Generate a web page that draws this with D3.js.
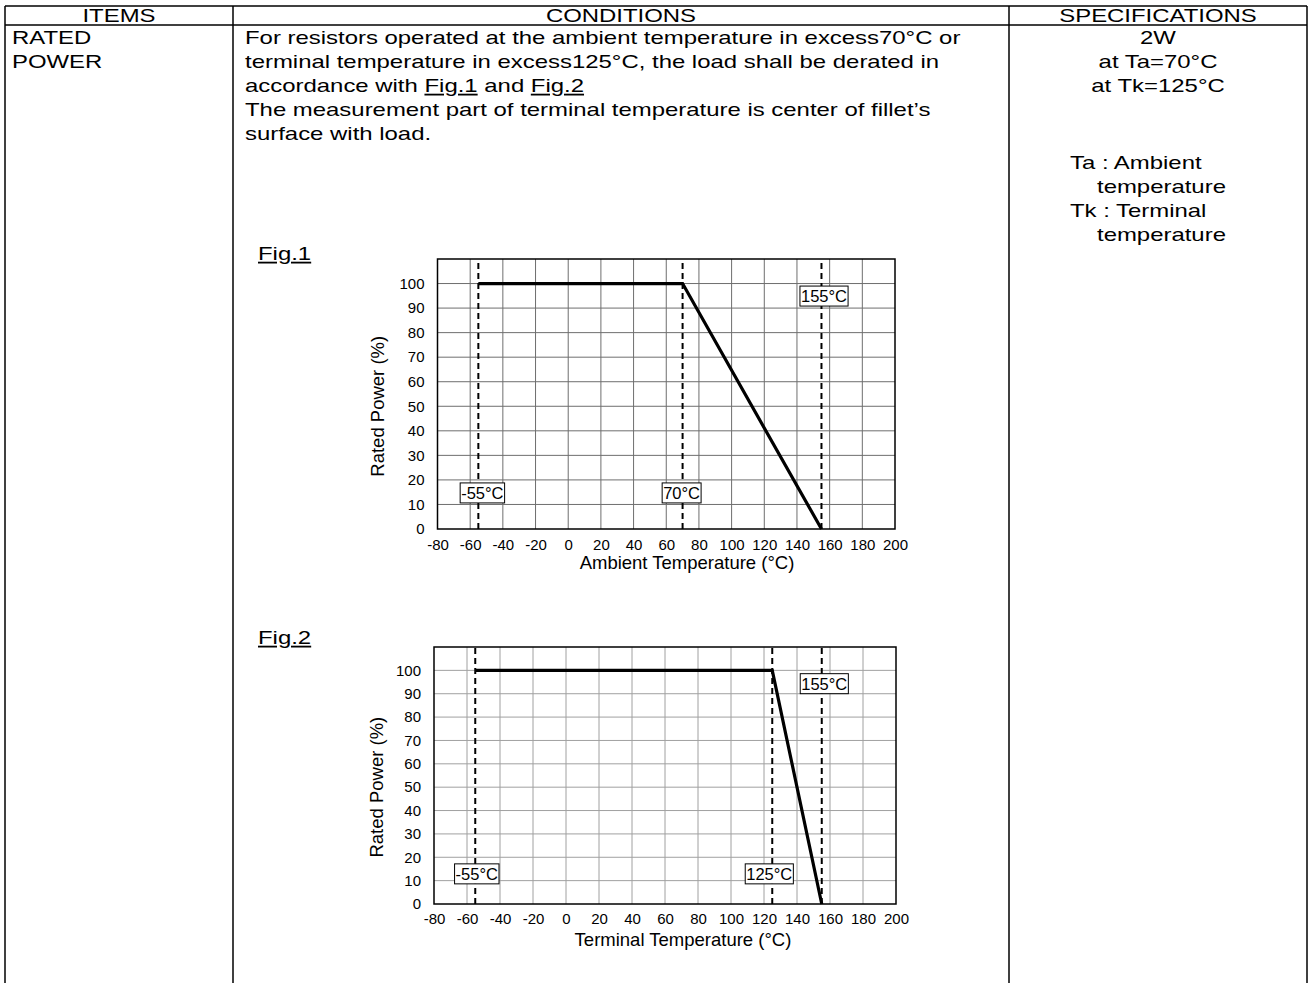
<!DOCTYPE html>
<html>
<head>
<meta charset="utf-8">
<script src="https://cdn.jsdelivr.net/npm/d3@7"></script>
<style>
  html, body { margin: 0; padding: 0; background: #fff; }
  svg { display: block; }
  text { font-family: Arial, "Liberation Sans", Helvetica, sans-serif; fill: #000; }
</style>
</head>
<body>
<svg id="page" width="1312" height="983"></svg>
<script>
// ---------------- data ----------------
const headers = ["ITEMS", "CONDITIONS", "SPECIFICATIONS"];
const itemLines = ["RATED", "POWER"];
const conditionLines = [
  "For resistors operated at the ambient temperature in excess70°C or",
  "terminal temperature in excess125°C, the load shall be derated in",
  null, // "accordance with Fig.1 and Fig.2" (built with underlines)
  "The measurement part of terminal temperature is center of fillet’s",
  "surface with load."
];
const specCenterLines = ["2W", "at Ta=70°C", "at Tk=125°C"];
const specNoteLines = [["Ta : Ambient", 0], ["temperature", 1], ["Tk : Terminal", 0], ["temperature", 1]];

const xTicks = [-80, -60, -40, -20, 0, 20, 40, 60, 80, 100, 120, 140, 160, 180, 200];
const yTicks = [0, 10, 20, 30, 40, 50, 60, 70, 80, 90, 100];
const xDomain = [-80, 200];
const yDomain = [0, 110];

const fig1Curve = [[-55, 100], [70, 100], [155, 0]];
const fig2Curve = [[-55, 100], [125, 100], [155, 0]];
const fig1Limits = [-55, 70, 155];
const fig2Limits = [-55, 125, 155];
const fig1LimitLabels = ["-55°C", "70°C", "155°C"];
const fig2LimitLabels = ["-55°C", "125°C", "155°C"];
const fig1LabelLevels = [14.7, 14.7, 94.9];
const fig2LabelLevels = [12.9, 12.9, 94.3];

// ---------------- layout ----------------
const svg = d3.select("#page");
const FONT = 18;
const SX = 1.33; // horizontal stretch of document text

function docText(x, y, str, anchor) {
  return svg.append("text")
    .attr("transform", `translate(${x},${y}) scale(${SX},1)`)
    .attr("text-anchor", anchor || "start").attr("font-size", FONT).text(str);
}

// table frame
const T = { left: 5, c1: 233, c2: 1009, right: 1307, top: 6, head: 25, bottom: 983 };
const frame = svg.append("g").attr("stroke", "#000").attr("stroke-width", 1.5).attr("fill", "none");
frame.append("line").attr("x1", T.left).attr("x2", T.right).attr("y1", T.top).attr("y2", T.top);
frame.append("line").attr("x1", T.left).attr("x2", T.right).attr("y1", T.head).attr("y2", T.head);
[T.left, T.c1, T.c2, T.right].forEach(x =>
  frame.append("line").attr("x1", x).attr("x2", x).attr("y1", T.top).attr("y2", T.bottom));

// headers
const headCenters = [(T.left + T.c1) / 2, (T.c1 + T.c2) / 2, (T.c2 + T.right) / 2];
headers.forEach((h, i) => docText(headCenters[i], 21.5, h, "middle"));

const rowY = i => 44 + i * 24;
itemLines.forEach((t, i) => docText(12, rowY(i), t));

conditionLines.forEach((t, i) => {
  if (t === null) {
    const tx = docText(245, rowY(i), "");
    tx.append("tspan").text("accordance with ");
    tx.append("tspan").attr("text-decoration", "underline").text("Fig.1");
    tx.append("tspan").text(" and ");
    tx.append("tspan").attr("text-decoration", "underline").text("Fig.2");
  } else {
    docText(245, rowY(i), t);
  }
});

specCenterLines.forEach((t, i) => docText(headCenters[2], rowY(i), t, "middle"));
specNoteLines.forEach(([t, indent], i) => docText(indent ? 1097 : 1070, 169 + i * 24, t));

// ---------------- charts ----------------
function drawChart(cfg) {
  const g = svg.append("g");
  const x = d3.scaleLinear().domain(xDomain).range([cfg.x0, cfg.x1]);
  const y = d3.scaleLinear().domain(yDomain).range([cfg.y0, cfg.y1]);

  // fig title
  docText(258, cfg.figY, cfg.fig).attr("text-decoration", "underline");

  // grid
  const grid = g.append("g").attr("stroke", cfg.gridColor).attr("stroke-width", 1);
  xTicks.filter(v => v > xDomain[0] && v < xDomain[1]).forEach(v =>
    grid.append("line").attr("x1", x(v)).attr("x2", x(v)).attr("y1", y(yDomain[0])).attr("y2", y(yDomain[1])));
  yTicks.filter(v => v > yDomain[0]).forEach(v =>
    grid.append("line").attr("x1", x(xDomain[0])).attr("x2", x(xDomain[1])).attr("y1", y(v)).attr("y2", y(v)));

  // frame
  g.append("rect").attr("x", x(xDomain[0])).attr("y", y(yDomain[1]))
    .attr("width", x(xDomain[1]) - x(xDomain[0])).attr("height", y(yDomain[0]) - y(yDomain[1]))
    .attr("fill", "none").attr("stroke", "#000").attr("stroke-width", 1.5);

  // axes (labels only)
  const xa = g.append("g").attr("transform", `translate(0,${y(0)})`)
    .call(d3.axisBottom(x).tickValues(xTicks).tickSize(0).tickPadding(cfg.xPad).tickFormat(d => String(d)));
  const ya = g.append("g").attr("transform", `translate(${x(xDomain[0])},0)`)
    .call(d3.axisLeft(y).tickValues(yTicks).tickSize(0).tickPadding(13).tickFormat(d => String(d)));
  [xa, ya].forEach(a => {
    a.select(".domain").remove();
    a.selectAll("text").attr("font-size", 15).attr("font-family", "Arial, 'Liberation Sans', sans-serif").attr("fill", "#000");
  });

  // titles
  g.append("text").attr("x", cfg.xTitleX).attr("y", cfg.xTitleY).attr("text-anchor", "middle")
    .attr("font-size", 18.5).text(cfg.xTitle);
  g.append("text").attr("transform", `translate(${cfg.yTitleX},${(y(0) + y(100)) / 2}) rotate(-90)`)
    .attr("text-anchor", "middle").attr("dy", "0.35em").attr("font-size", 18.5).text("Rated Power (%)");

  // dashed limit lines
  cfg.limits.forEach(v => g.append("line").attr("x1", x(v)).attr("x2", x(v))
    .attr("y1", y(yDomain[0])).attr("y2", y(yDomain[1]))
    .attr("stroke", "#000").attr("stroke-width", 2).attr("stroke-dasharray", "6,4"));

  // derating curve
  g.append("path").datum(cfg.curve)
    .attr("d", d3.line().x(d => x(d[0])).y(d => y(d[1])))
    .attr("fill", "none").attr("stroke", "#000").attr("stroke-width", 3.2).attr("stroke-linejoin", "miter");

  // labels
  cfg.limits.forEach((v, i) => {
    const lg = g.append("g").attr("transform", `translate(${x(v) + cfg.labelDx[i]},${y(cfg.levels[i])})`);
    const t = lg.append("text").attr("text-anchor", "middle").attr("dy", "0.36em").attr("font-size", 16.5).text(cfg.labels[i]);
    const bb = t.node().getBBox();
    lg.insert("rect", "text").attr("x", bb.x - 1).attr("y", -10).attr("width", bb.width + 2).attr("height", 20)
      .attr("fill", "#fff").attr("stroke", "#000").attr("stroke-width", 1);
  });
}

drawChart({
  fig: "Fig.1", figY: 260,
  x0: 437.5, x1: 895, y0: 529, y1: 259,
  gridColor: "#6e6e6e", xPad: 10,
  xTitle: "Ambient Temperature (°C)", xTitleX: 687, xTitleY: 569, yTitleX: 378,
  limits: fig1Limits, labels: fig1LimitLabels, levels: fig1LabelLevels, labelDx: [4, -1, 2.5],
  curve: fig1Curve
});
drawChart({
  fig: "Fig.2", figY: 644,
  x0: 434, x1: 896, y0: 904, y1: 647,
  gridColor: "#a0a0a0", xPad: 9,
  xTitle: "Terminal Temperature (°C)", xTitleX: 683, xTitleY: 946, yTitleX: 377,
  limits: fig2Limits, labels: fig2LimitLabels, levels: fig2LabelLevels, labelDx: [1.5, -3, 2.5],
  curve: fig2Curve
});
</script>
</body>
</html>
